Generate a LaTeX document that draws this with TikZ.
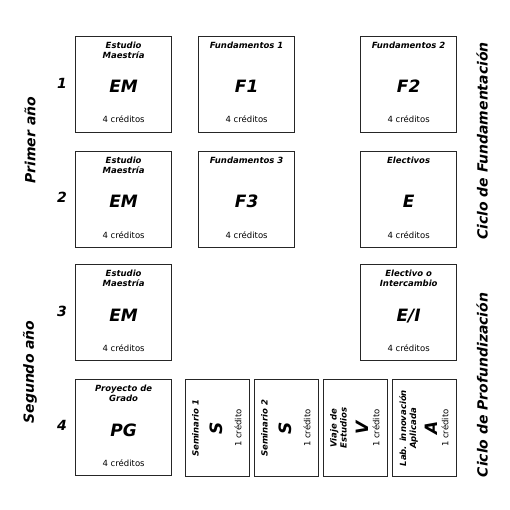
\documentclass[tikz,border=0pt]{standalone}
\usepackage{fontspec}
\setmainfont{DejaVu Sans}
\usetikzlibrary{positioning}
\tikzset{
        x=1pt, y=-1pt, % picture measured from the top left corner
        course/.style={draw=black!85, line width=1.3pt, anchor=north west, inner sep=0pt, minimum width=96pt, minimum height=96pt}, % the big boxes
        seminar/.style={course, minimum width=64pt, minimum height=97pt}, % the narrow boxes of row 4
        title/.style={font=\fontsize{8.5}{10}\selectfont\bfseries\itshape, align=center, inner sep=0pt},
        code/.style={font=\fontsize{17}{19}\selectfont\bfseries\itshape, inner sep=0pt},
        credits/.style={font=\fontsize{8.5}{10}\selectfont, inner sep=0pt},
        side/.style={font=\fontsize{14}{16}\selectfont\bfseries\itshape, rotate=90},
        semester/.style={font=\fontsize{14}{16}\selectfont\bfseries\itshape},
}
% name, x, y, title, code
\def\course#1#2#3#4#5{
        \node[course] (#1) at (#2,#3) {};
        \node[title, anchor=north] (#1-title) at ([yshift=-6pt]#1.north) {#4};
        \node[code, anchor=base] (#1-code) at ([yshift=-57pt]#1.north) {#5};
        \node[credits, anchor=base] (#1-credits) at ([yshift=-87pt]#1.north) {4 créditos};
}
% name, x, title, code, offset of the code
\def\seminar#1#2#3#4#5{
        \node[seminar] (#1) at (#2,379) {};
        \node[title, rotate=90, anchor=north] (#1-title) at ([xshift=7pt]#1.west) {#3};
        \node[code, rotate=90] (#1-code) at ([xshift=#5pt]#1.west) {#4};
        \node[credits, rotate=90] (#1-credits) at ([xshift=53pt]#1.west) {1 crédito};
}

\begin{document}
\begin{tikzpicture}
      \useasboundingbox (0,0) rectangle (510,510);
      \course{em1}{75}{36}{Estudio\\Maestría}{EM}
      \course{f1}{198}{36}{Fundamentos 1}{F1}
      \course{f2}{360}{36}{Fundamentos 2}{F2}
      \course{em2}{75}{151}{Estudio\\Maestría}{EM}
      \course{f3}{198}{151}{Fundamentos 3}{F3}
      \course{e}{360}{151}{Electivos}{E}
      \course{em3}{75}{264}{Estudio\\Maestría}{EM}
      \course{ei}{360}{264}{Electivo o\\Intercambio}{E/I}
      \course{pg}{75}{379}{Proyecto de\\Grado}{PG}
      \seminar{s1}{185}{Seminario 1}{S}{31}
      \seminar{s2}{254}{Seminario 2}{S}{31}
      \seminar{v}{323}{Viaje de\\Estudios}{V}{39}
      \seminar{a}{392}{Lab. innovación\\Aplicada}{A}{39}
      % semesters and years
      \node[semester] (sem1) at (62,83) {1};
      \node[semester] (sem2) at (62,197) {2};
      \node[semester] (sem3) at (62,311) {3};
      \node[semester] (sem4) at (62,425) {4};
      \node[side] (year1) at (30,140) {Primer año};
      \node[side] (year2) at (30,372) {Segundo año};
      % cycles
      \node[side] (fund) at (482,141) {Ciclo de Fundamentación};
      \node[side] (prof) at (482,385) {Ciclo de Profundización};
\end{tikzpicture}
\end{document}
